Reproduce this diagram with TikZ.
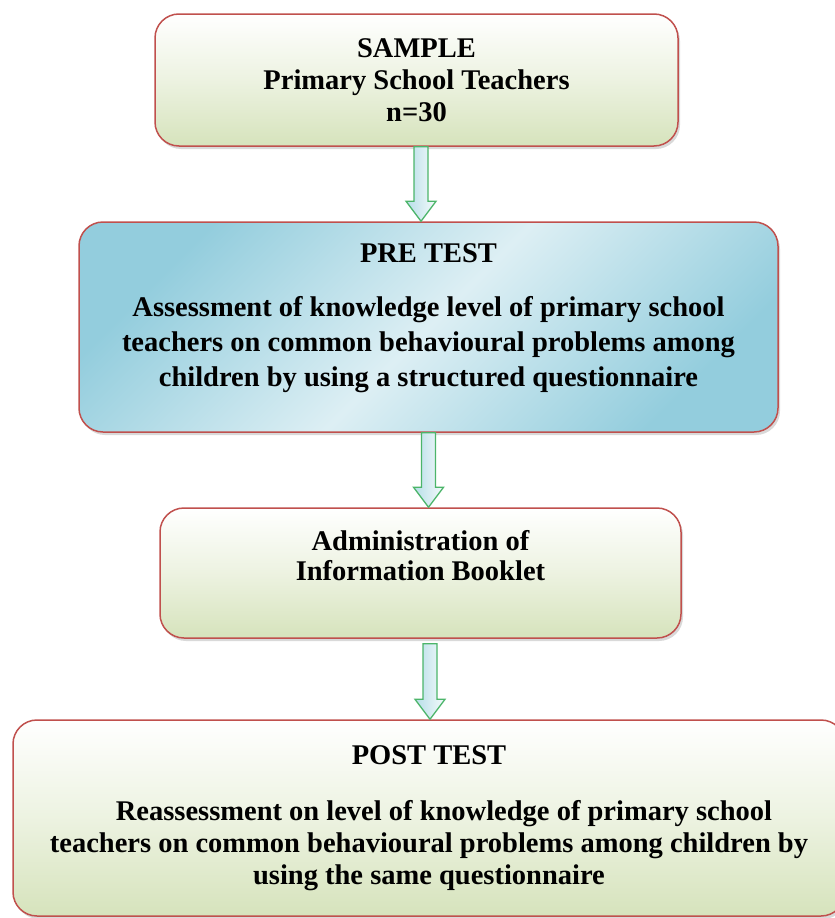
\documentclass[tikz,border=0pt]{standalone}
\usepackage{fontspec}
\setmainfont{Liberation Serif}
\usetikzlibrary{calc,shadows}
\definecolor{boxred}{HTML}{C0504D}
\definecolor{olivelight}{HTML}{D6E3BC}
\definecolor{bluedark}{HTML}{93CDDD}
\definecolor{bluelight}{HTML}{DDEFF4}
\definecolor{arrowgreen}{HTML}{4CB56A}
\definecolor{arrowblue}{HTML}{B7DEE8}

\tikzset{
stagebox/.style={draw=boxred, line width=1.5pt, rounded corners=24pt, align=center,
  font=\bfseries\fontsize{28.5}{32}\selectfont,
  drop shadow={shadow xshift=2pt, shadow yshift=-3pt, opacity=0.3, fill=gray}},
greenbox/.style={stagebox, top color=white, bottom color=olivelight, middle color=olivelight!45},
bluebox/.style={stagebox, left color=bluedark, right color=bluedark, middle color=bluelight, shading angle=45},
blockarrow/.style={draw=arrowgreen, line width=1.3pt, left color=arrowblue, right color=arrowblue!15, line join=miter}
}

% hollow down arrow: x from #1, tip at the y of #2
\newcommand\flowarrow[2]{%
\draw[blockarrow] let \p1=(#1), \p2=(#2) in
  (\x1-7pt,\y1) -- (\x1-7pt,\y2+20pt) -- (\x1-15pt,\y2+20pt) -- (\x1,\y2)
  -- (\x1+15pt,\y2+20pt) -- (\x1+7pt,\y2+20pt) -- (\x1+7pt,\y1) -- cycle;}

\begin{document}
\begin{tikzpicture}[x=1pt,y=-1pt]
\useasboundingbox (0,0) rectangle (835,918);

\node[greenbox, minimum width=523pt, minimum height=132pt] (sample) at (416.5,80)
  {SAMPLE\\Primary School Teachers\\n=30};
\node[bluebox, minimum width=699pt, minimum height=210pt, text depth=24pt] (pretest) at (428.5,327)
  {PRE TEST\\[22pt]Assessment of knowledge level of primary school\\[3pt]teachers on common behavioural problems among\\[3pt]children by using a structured questionnaire};
\node[greenbox, minimum width=521pt, minimum height=130pt, text depth=36pt] (admin) at (420.5,573)
  {Administration of\\[-2pt]Information Booklet};
\node[greenbox, minimum width=832pt, minimum height=196pt] (posttest) at (429,818)
  {POST TEST\\[24pt]\hspace*{30pt}Reassessment on level of knowledge of primary school\\teachers on common behavioural problems among children by\\using the same questionnaire};

\flowarrow{$(sample.south)+(4.5,0)$}{pretest.north}
\flowarrow{pretest.south}{admin.north}
\flowarrow{$(admin.south)+(9.5,5)$}{posttest.north}
\end{tikzpicture}
\end{document}
